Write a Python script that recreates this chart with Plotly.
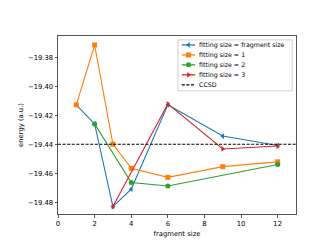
import plotly.graph_objects as go

# Data
frag_blue = [1, 2, 3, 4, 6, 9, 12]
e_blue = [-19.4129, -19.426, -19.4831, -19.4711, -19.4128, -19.4344, -19.4409]

frag_orange = [1, 2, 3, 4, 6, 9, 12]
e_orange = [-19.4129, -19.3715, -19.4400, -19.4567, -19.4629, -19.4555, -19.4522]

frag_green = [2, 4, 6, 12]
e_green = [-19.426, -19.4664, -19.4689, -19.4540]

frag_red = [3, 6, 9, 12]
e_red = [-19.4831, -19.4122, -19.4433, -19.4413]

ccsd_energy = -19.44

x_range = [0, 13]
y_range = [-19.4882, -19.3653]

names = ["fitting size = fragment size", "fitting size = 1", "fitting size = 2", "fitting size = 3", "CCSD"]
colors = ["#1f77b4", "#ff7f0e", "#2ca02c", "#d62728", "black"]
symbols = ["triangle-left", "square", "circle", "triangle-right", None]

DASH = "3px,1.6px"

fig = go.Figure()
for xs, ys, n, c, s in zip([frag_blue, frag_orange, frag_green, frag_red],
                           [e_blue, e_orange, e_green, e_red], names, colors, symbols):
    fig.add_trace(go.Scatter(x=xs, y=ys, mode="lines+markers", name=n, showlegend=False,
                             line=dict(color=c, width=1.1),
                             marker=dict(symbol=s, size=5, color=c)))

fig.add_trace(go.Scatter(x=x_range, y=[ccsd_energy, ccsd_energy], mode="lines", name="CCSD",
                         showlegend=False,
                         line=dict(color="black", width=1.1, dash=DASH)))

# ---- custom compact legend on an overlay axis measured in plot pixels ----
PW, PH = 248, 185
box = dict(x0=125, x1=244, y0=4, y1=57)
row_y = [9.3, 19.7, 30, 40.3, 50.7]
seg_x0, seg_x1, txt_x = 129, 143, 147

fig.add_trace(go.Scatter(x=[box["x0"], box["x1"], box["x1"], box["x0"], box["x0"]],
                         y=[box["y0"], box["y0"], box["y1"], box["y1"], box["y0"]],
                         mode="lines", fill="toself", fillcolor="rgba(255,255,255,0.85)",
                         line=dict(color="#d0d0d0", width=1), xaxis="x2", yaxis="y2",
                         showlegend=False, hoverinfo="skip"))
for i, (n, c, s) in enumerate(zip(names, colors, symbols)):
    fig.add_trace(go.Scatter(x=[seg_x0, seg_x1], y=[row_y[i], row_y[i]], mode="lines",
                             line=dict(color=c, width=1.3, dash=DASH if s is None else "solid"),
                             xaxis="x2", yaxis="y2", showlegend=False, hoverinfo="skip"))
    if s is not None:
        fig.add_trace(go.Scatter(x=[(seg_x0 + seg_x1) / 2], y=[row_y[i]], mode="markers",
                                 marker=dict(symbol=s, size=5, color=c),
                                 xaxis="x2", yaxis="y2", showlegend=False, hoverinfo="skip"))
    fig.add_annotation(x=txt_x, y=row_y[i], xref="x2", yref="y2", text=n, showarrow=False,
                       xanchor="left", yanchor="middle", xshift=-2,
                       font=dict(size=6.3, color="black"))

axis_common = dict(showline=True, linecolor="#555", linewidth=1, mirror=True,
                   ticks="outside", ticklen=2.5, tickcolor="#555", tickwidth=1,
                   showgrid=False, zeroline=False,
                   tickfont=dict(size=6.8, color="black"))

fig.update_xaxes(range=x_range, dtick=2, tick0=0,
                 title=dict(text="fragment size", font=dict(size=6.8, color="black"), standoff=4),
                 **axis_common)
fig.update_yaxes(range=y_range, dtick=0.02, tick0=-19.38, tickformat=".2f",
                 title=dict(text="energy (a.u.)", font=dict(size=6.8, color="black"), standoff=3),
                 **axis_common)

fig.update_layout(
    width=320, height=240,
    margin=dict(l=40, r=32, t=28, b=27),
    plot_bgcolor="white", paper_bgcolor="white",
    font=dict(family="DejaVu Sans", size=7, color="black"),
    showlegend=False,
    xaxis2=dict(overlaying="x", range=[0, PW], visible=False, fixedrange=True),
    yaxis2=dict(overlaying="y", range=[PH, 0], visible=False, fixedrange=True),
)

fig.write_html("out.html")
